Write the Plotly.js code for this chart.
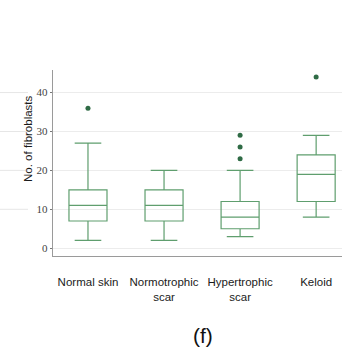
<!DOCTYPE html>
<html>
<head>
<meta charset="utf-8">
<script src="https://cdn.plot.ly/plotly-3.0.1.min.js"></script>
<style>html,body{margin:0;padding:0;background:#fff;}#chart{width:342px;height:355px;}</style>
</head>
<body>
<div id="chart"></div>
<script>
var categories = ['Normal skin', 'Normotrophic scar', 'Hypertrophic scar', 'Keloid'];
var tickLabels = ['Normal skin', 'Normotrophic<br>scar', 'Hypertrophic<br>scar', 'Keloid'];
var lowerWhisker = [2, 2, 3, 8];
var q1Values = [7, 7, 5, 12];
var medianValues = [11, 11, 8, 19];
var q3Values = [15, 15, 12, 24];
var upperWhisker = [27, 20, 20, 29];
var outlierCategories = ['Normal skin', 'Hypertrophic scar', 'Hypertrophic scar', 'Hypertrophic scar', 'Keloid'];
var outlierValues = [36, 29, 26, 23, 44];
var yTicks = [0, 10, 20, 30, 40];

var boxColor = '#5f9e6e';
var dotColor = '#2f6b45';
var sans = 'Liberation Sans, Arial, sans-serif';

var traces = [
  {
    type: 'box',
    x: categories,
    q1: q1Values,
    median: medianValues,
    q3: q3Values,
    lowerfence: lowerWhisker,
    upperfence: upperWhisker,
    boxpoints: false,
    width: 0.5,
    whiskerwidth: 0.7,
    line: {color: boxColor, width: 1.2},
    fillcolor: 'rgba(0,0,0,0)',
    hoverinfo: 'skip',
    showlegend: false
  },
  {
    type: 'scatter',
    mode: 'markers',
    x: outlierCategories,
    y: outlierValues,
    marker: {color: dotColor, size: 5},
    hoverinfo: 'skip',
    showlegend: false
  }
];

var leftGhost = [];
[10, 20, 30, 40].forEach(function (v) {
  leftGhost.push({type: 'line', xref: 'paper', yref: 'y', x0: -53 / 289, x1: -25 / 289, y0: v, y1: v,
    line: {color: '#e6e6e6', width: 1}});
});

var layout = {
  width: 342,
  height: 355,
  margin: {l: 53, r: 0, t: 70, b: 99},
  paper_bgcolor: '#ffffff',
  plot_bgcolor: '#ffffff',
  xaxis: {
    type: 'category',
    categoryorder: 'array',
    categoryarray: categories,
    tickvals: categories,
    ticktext: tickLabels,
    range: [-0.46, 3.34],
    showgrid: false,
    zeroline: false,
    showline: true,
    linecolor: '#9a9a9a',
    linewidth: 1.2,
    ticks: '',
    tickangle: 0,
    ticklabelstandoff: 15,
    tickfont: {family: sans, size: 11.5, color: '#1a1a1a'},
    fixedrange: true
  },
  yaxis: {
    range: [-2, 45.8],
    tickvals: yTicks,
    ticktext: yTicks.map(String),
    showgrid: true,
    gridcolor: '#ececec',
    gridwidth: 1,
    zeroline: false,
    showline: true,
    linecolor: '#9a9a9a',
    linewidth: 1.2,
    ticks: 'outside',
    ticklen: 2,
    tickcolor: '#777',
    tickfont: {family: 'Liberation Serif, Times New Roman, serif', size: 11, color: '#444'},
    automargin: false,
    fixedrange: true
  },
  shapes: leftGhost,
  annotations: [
    {text: 'No. of fibroblasts', xref: 'paper', yref: 'paper', x: -25 / 289, y: (256 - 139) / 186,
     xanchor: 'center', yanchor: 'middle', textangle: -90, showarrow: false,
     font: {family: sans, size: 11.5, color: '#1a1a1a'}},
    {text: '(f)', xref: 'paper', yref: 'paper', x: 0.519, y: -0.425, xanchor: 'center', yanchor: 'middle',
     showarrow: false, font: {family: sans, size: 21, color: '#111'}}
  ]
};

Plotly.newPlot('chart', traces, layout, {displayModeBar: false, staticPlot: true});
</script>
</body>
</html>
